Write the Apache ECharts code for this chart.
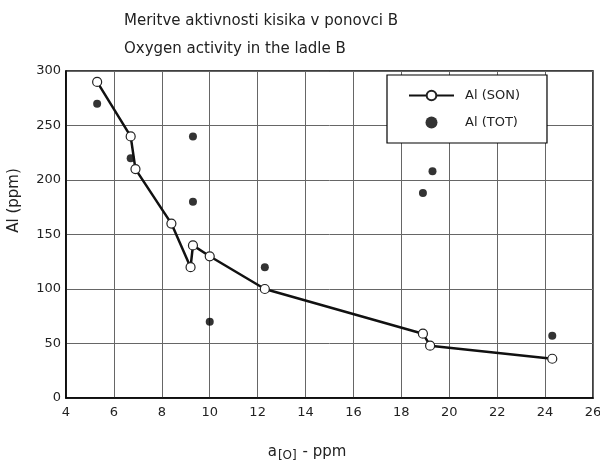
<!DOCTYPE html>
<html>
<head>
<meta charset="utf-8">
<script src="https://cdn.jsdelivr.net/npm/echarts@6/dist/echarts.min.js"></script>
<style>
  html, body { margin: 0; padding: 0; background: #fff; }
  #chart { width: 600px; height: 460px; }
</style>
</head>
<body>
<div id="chart"></div>
<script>
// Al (SON) - open circles joined by a line
var sonX = [5.3, 6.7, 6.9, 8.4, 9.2, 9.3, 10.0, 12.3, 18.9, 19.2, 24.3];
var sonY = [290, 240, 210, 160, 120, 140, 130, 100, 59, 48, 36];
// Al (TOT) - filled dots
var totX = [5.3, 6.7, 9.3, 9.3, 10.0, 12.3, 18.9, 19.3, 24.3];
var totY = [270, 220, 240, 180, 70, 120, 188, 208, 57];

var xTicks = [4, 26, 2];
var yTicks = [0, 300, 50];

var font = 'DejaVu Sans';
var ink = '#222';

var chart = echarts.init(document.getElementById('chart'));

var option = {
    backgroundColor: '#fff',
    animation: false,
    title: {
        text: 'Meritve aktivnosti kisika v ponovci B\nOxygen activity in the ladle B',
        left: 119,
        top: 2,
        textStyle: {
            fontFamily: font,
            fontSize: 15,
            fontWeight: 'normal',
            color: ink,
            lineHeight: 28
        }
    },
    grid: {
        left: 66,
        right: 7,
        top: 71,
        bottom: 62,
        containLabel: false,
        outerBoundsMode: 'none',
        show: true,
        borderColor: '#000',
        borderWidth: 1.5
    },
    legend: {
        left: 387,
        top: 75,
        orient: 'vertical',
        backgroundColor: '#fff',
        borderColor: '#000',
        borderWidth: 1.2,
        padding: [14, 27, 14, 21],
        itemGap: 14,
        itemWidth: 45,
        itemHeight: 12,
        textStyle: { fontFamily: font, fontSize: 13, color: ink, padding: [0, 0, 0, 6] },
        data: ['Al (SON)', 'Al (TOT)']
    },
    xAxis: {
        type: 'value',
        min: xTicks[0],
        max: xTicks[1],
        interval: xTicks[2],
        name: '{a|a}{s|[O]}{a| - ppm}',
        nameLocation: 'middle',
        nameGap: 44,
        nameTextStyle: {
            padding: [0, 45, 0, 0],
            rich: {
                a: { fontFamily: font, fontSize: 15, color: ink },
                s: { fontFamily: font, fontSize: 12, color: ink, padding: [8, 1, 0, 1] }
            }
        },
        axisLine: { lineStyle: { color: '#000', width: 1.5 } },
        axisTick: { show: false },
        axisLabel: { fontFamily: font, fontSize: 13, color: ink, margin: 8 },
        splitLine: { lineStyle: { color: '#666', width: 1 } }
    },
    yAxis: {
        type: 'value',
        min: yTicks[0],
        max: yTicks[1],
        interval: yTicks[2],
        name: 'Al (ppm)',
        nameLocation: 'middle',
        nameGap: 44,
        nameTextStyle: { fontFamily: font, fontSize: 15, color: ink, padding: [0, 0, 0, 68] },
        axisLine: { lineStyle: { color: '#000', width: 1.5 } },
        axisTick: { show: false },
        axisLabel: { fontFamily: font, fontSize: 13, color: ink, margin: 5 },
        splitLine: { lineStyle: { color: '#666', width: 1 } }
    },
    series: [{
        name: 'Al (SON)',
        type: 'line',
        data: sonX.map(function (x, i) { return [x, sonY[i]]; }),
        symbol: 'circle',
        symbolSize: 9,
        itemStyle: { color: '#fff', borderColor: '#222', borderWidth: 1.2 },
        lineStyle: { color: '#111', width: 2.5 },
        z: 3
    }, {
        name: 'Al (TOT)',
        type: 'scatter',
        data: totX.map(function (x, i) { return [x, totY[i]]; }),
        symbol: 'circle',
        symbolSize: 8,
        itemStyle: { color: '#000' },
        z: 2
    }]
};

chart.setOption(option);
</script>
</body>
</html>
